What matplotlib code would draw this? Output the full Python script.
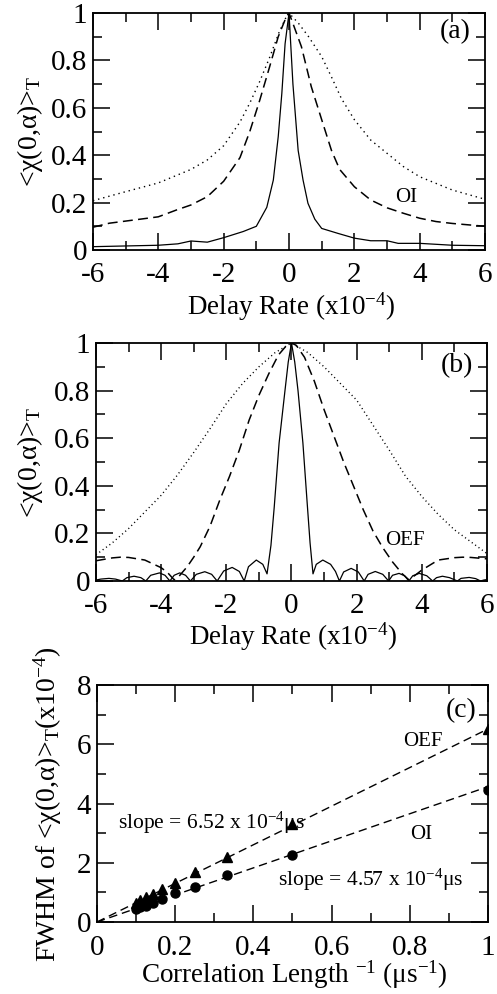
import numpy as np
import matplotlib
matplotlib.use("Agg")
import matplotlib.pyplot as plt
from matplotlib.ticker import MultipleLocator, FuncFormatter

plt.rcParams['font.family'] = ['Liberation Serif', 'DejaVu Serif']
plt.rcParams['mathtext.fontset'] = 'custom'
plt.rcParams['mathtext.rm'] = 'Liberation Serif'
plt.rcParams['mathtext.it'] = 'Liberation Serif:italic'
plt.rcParams['axes.unicode_minus'] = False

# ---------------- panel (a): OI ambiguity cuts ----------------
a_dot_x = [-6, -5, -4, -3, -2.5, -2, -1.5, -1.2, -0.9, -0.6, -0.3, -0.08, 0,
           0.3, 0.6, 1.0, 1.3, 1.6, 2.0, 2.5, 3.0, 3.5, 4.0, 4.5, 5.0, 6.0]
a_dot_y = [0.208, 0.246, 0.283, 0.34, 0.38, 0.44, 0.54, 0.62, 0.71, 0.81, 0.92, 0.985, 1.0,
           0.955, 0.9, 0.816, 0.73, 0.64, 0.55, 0.464, 0.408, 0.352, 0.309, 0.281, 0.253, 0.214]

a_dash_x = [-6, -5.5, -5, -4, -3.44, -3, -2.5, -2, -1.5, -1.2, -0.9, -0.6, -0.33, -0.08, 0,
            0.12, 0.38, 0.68, 1.0, 1.3, 1.55, 2.0, 2.5, 3.0, 3.5, 4.0, 4.5, 5.0, 6.0]
a_dash_y = [0.096, 0.113, 0.122, 0.14, 0.169, 0.19, 0.225, 0.29, 0.39, 0.5, 0.63, 0.77, 0.9, 0.985, 1.0,
            0.956, 0.858, 0.69, 0.55, 0.42, 0.34, 0.267, 0.211, 0.178, 0.155, 0.134, 0.12, 0.112, 0.1]

a_sol_x = [-6, -5, -4, -3.4, -3.0, -2.5, -2.0, -1.4, -1.0, -0.68, -0.48, -0.33, -0.22, -0.12, 0,
           0.12, 0.28, 0.43, 0.58, 0.79, 1.0, 1.5, 2.0, 2.5, 3.0, 3.34, 4.0, 5.0, 6.0]
a_sol_y = [0.014, 0.017, 0.02, 0.026, 0.038, 0.033, 0.052, 0.078, 0.1, 0.18, 0.295, 0.478, 0.66, 0.87, 1.0,
           0.7, 0.42, 0.295, 0.197, 0.13, 0.091, 0.07, 0.05, 0.039, 0.039, 0.028, 0.028, 0.02, 0.018]

# ---------------- panel (b): OEF ambiguity cuts ----------------
b_dot_x = [-6, -5.5, -5, -4.5, -4, -3.5, -3, -2.5, -2, -1.5, -1, -0.5, 0,
           0.5, 1, 1.5, 2, 2.5, 3, 3.5, 4, 4.5, 5, 5.5, 6]
b_dot_y = [0.11, 0.16, 0.22, 0.29, 0.36, 0.445, 0.54, 0.64, 0.745, 0.83, 0.9, 0.96, 1.0,
           0.96, 0.9, 0.83, 0.76, 0.655, 0.55, 0.44, 0.355, 0.28, 0.215, 0.165, 0.115]

b_dash_x = [-6, -5.5, -5.25, -5, -4.5, -4, -3.8, -3.6, -3.45, -3.2, -3.0, -2.8, -2.5, -2.2, -1.9,
            -1.6, -1.3, -1.0, -0.7, -0.4, -0.15, 0,
            0.15, 0.4, 0.7, 1.0, 1.3, 1.6, 1.9, 2.2, 2.5, 2.8, 3.1, 3.4, 3.6, 3.8, 4.0, 4.5,
            5.0, 5.25, 5.5, 6.0]
b_dash_y = [0.085, 0.097, 0.1, 0.099, 0.088, 0.056, 0.035, 0.005, 0.02, 0.06, 0.1, 0.144, 0.23, 0.34, 0.44,
            0.55, 0.676, 0.78, 0.87, 0.95, 0.99, 1.0,
            0.99, 0.94, 0.84, 0.72, 0.61, 0.5, 0.4, 0.3, 0.21, 0.14, 0.08, 0.03, 0.005, 0.025, 0.046, 0.088,
            0.098, 0.1, 0.099, 0.093]

b_sol_x = [-6.0, -5.85, -5.6, -5.4, -5.19, -5.05, -4.83, -4.62, -4.47, -4.32, -4.05, -3.88, -3.73,
           -3.6, -3.43, -3.25, -3.1, -2.92, -2.66, -2.45, -2.28, -2.08, -1.82, -1.6, -1.45,
           -1.32, -1.08, -0.88, -0.75, -0.63, -0.53, -0.38, -0.2, -0.1, 0,
           0.1, 0.2, 0.35, 0.48, 0.57, 0.66, 0.76, 0.96, 1.2, 1.35, 1.47, 1.6, 1.83, 2.05, 2.23,
           2.35, 2.57, 2.8, 2.98, 3.1, 3.3, 3.47, 3.6, 3.72, 3.92, 4.15, 4.33, 4.45, 4.63, 4.85,
           5.09, 5.2, 5.45, 5.65, 5.8, 5.9, 6.0]
b_sol_y = [0.004, 0.008, 0.011, 0.008, 0.0, 0.014, 0.02, 0.014, 0.0, 0.024, 0.034, 0.024, 0.0,
           0.024, 0.034, 0.024, 0.0, 0.028, 0.039, 0.028, 0.0, 0.042, 0.057, 0.04, 0.0,
           0.06, 0.088, 0.07, 0.03, 0.15, 0.31, 0.58, 0.8, 0.92, 1.0,
           0.92, 0.8, 0.58, 0.33, 0.16, 0.03, 0.07, 0.088, 0.07, 0.04, 0.0, 0.038, 0.053, 0.038, 0.0,
           0.028, 0.04, 0.028, 0.0, 0.024, 0.032, 0.022, 0.0, 0.022, 0.032, 0.022, 0.0, 0.014, 0.02, 0.014,
           0.0, 0.011, 0.015, 0.01, 0.0, 0.004, 0.006]

# ---------------- panel (c): FWHM vs inverse correlation length ----------------
inv_corr_len = [1.0, 0.5, 0.333, 0.25, 0.2, 0.167, 0.143, 0.125, 0.111, 0.1]
fwhm_oef = [6.5, 3.3, 2.2, 1.69, 1.33, 1.12, 0.93, 0.84, 0.74, 0.65]
fwhm_oi = [4.47, 2.25, 1.58, 1.18, 0.97, 0.78, 0.63, 0.54, 0.5, 0.43]
slope_oef = 6.52
slope_oi = 4.57

fig = plt.figure(figsize=(4.97, 9.94), dpi=100)

TICK_FS = 21
LABEL_FS = 19.5
YLABEL_FS = 20
LW = 0.9
ylab = "<χ(0,α)>$_{\\mathregular{T}}$"


def style_axes(ax, xmaj, xmin, ymaj, ymin):
    ax.xaxis.set_major_locator(MultipleLocator(xmaj))
    ax.xaxis.set_minor_locator(MultipleLocator(xmin))
    ax.yaxis.set_major_locator(MultipleLocator(ymaj))
    ax.yaxis.set_minor_locator(MultipleLocator(ymin))
    fmt = FuncFormatter(lambda v, p: "%g" % round(v, 6))
    ax.xaxis.set_major_formatter(fmt)
    ax.yaxis.set_major_formatter(fmt)
    ax.tick_params(which='both', direction='in', top=True, right=True, width=1.1)
    ax.tick_params(which='major', length=12)
    ax.tick_params(which='minor', length=6.5)
    ax.tick_params(axis='x', which='major', labelsize=TICK_FS, pad=9)
    ax.tick_params(axis='y', which='major', labelsize=TICK_FS, pad=4)
    for s in ax.spines.values():
        s.set_linewidth(1.3)


# panel (a)
ax1 = fig.add_axes([0.187, 0.7485, 0.789, 0.2384])
ax1.plot(a_dot_x, a_dot_y, color='black', lw=1.0, dashes=(1.0, 2.8))
ax1.plot(a_dash_x, a_dash_y, color='black', lw=1.1, dashes=(6.5, 3.5))
ax1.plot(a_sol_x, a_sol_y, color='black', lw=LW)
ax1.set_xlim(-6, 6)
ax1.set_ylim(0, 1)
style_axes(ax1, 2, 1, 0.2, 0.1)
ax1.text(5.08, 0.92, "(a)", fontsize=20, ha='center', va='center')
ax1.text(3.6, 0.22, "OI", fontsize=15, ha='center', va='center')
ax1.set_xlabel("Delay Rate (x10$^{\\mathregular{-4}}$)", fontsize=LABEL_FS)
ax1.set_ylabel(ylab, fontsize=YLABEL_FS)
ax1.xaxis.set_label_coords(0.505, -0.17)
ax1.yaxis.set_label_coords(-0.122, 0.5)

# panel (b)
ax2 = fig.add_axes([0.193, 0.4155, 0.787, 0.2394])
ax2.plot(b_dot_x, b_dot_y, color='black', lw=1.0, dashes=(0.8, 2.2))
ax2.plot(b_dash_x, b_dash_y, color='black', lw=1.1, dashes=(6.5, 3.5))
ax2.plot(b_sol_x, b_sol_y, color='black', lw=LW)
ax2.set_xlim(-6, 6)
ax2.set_ylim(0, 1)
style_axes(ax2, 2, 1, 0.2, 0.1)
ax2.text(5.07, 0.906, "(b)", fontsize=20, ha='center', va='center')
ax2.text(3.48, 0.171, "OEF", fontsize=15, ha='center', va='center')
ax2.set_xlabel("Delay Rate (x10$^{\\mathregular{-4}}$)", fontsize=LABEL_FS)
ax2.set_ylabel(ylab, fontsize=YLABEL_FS)
ax2.xaxis.set_label_coords(0.505, -0.165)
ax2.yaxis.set_label_coords(-0.13, 0.5)

# panel (c)
ax3 = fig.add_axes([0.195, 0.0724, 0.787, 0.2384])
xfit = np.array([0.0, 1.0])
ax3.plot(xfit, slope_oef * xfit, color='black', lw=1.0, dashes=(6, 3.5))
ax3.plot(xfit, slope_oi * xfit, color='black', lw=1.0, dashes=(6, 3.5))
ax3.plot(inv_corr_len, fwhm_oef, linestyle='none', marker='^', ms=6.5, color='black')
ax3.plot(inv_corr_len, fwhm_oi, linestyle='none', marker='o', ms=6.5, color='black')
ax3.set_xlim(0, 1)
ax3.set_ylim(0, 8)
style_axes(ax3, 0.2, 0.1, 2, 1)
ax3.text(0.932, 7.15, "(c)", fontsize=20, ha='center', va='center')
ax3.text(0.834, 6.08, "OEF", fontsize=15, ha='center', va='center')
ax3.text(0.83, 2.96, "OI", fontsize=15, ha='center', va='center')
ax3.text(0.055, 3.15, "slope = %.2f x 10$^{\\mathregular{-4}}$μs" % slope_oef,
         fontsize=15.5, ha='left', va='baseline')
ax3.text(0.464, 1.24, "slope = %.2f x 10$^{\\mathregular{-4}}$μs" % slope_oi,
         fontsize=15.5, ha='left', va='baseline')
ax3.set_xlabel("Correlation Length $^{\\mathregular{-1}}$ (μs$^{\\mathregular{-1}}$)", fontsize=LABEL_FS)
ax3.set_ylabel("FWHM of " + ylab + "(x10$^{\\mathregular{-4}}$)", fontsize=YLABEL_FS)
ax3.xaxis.set_label_coords(0.504, -0.155)
ax3.yaxis.set_label_coords(-0.085, 0.5)

fig.savefig("out.png", dpi=100)
